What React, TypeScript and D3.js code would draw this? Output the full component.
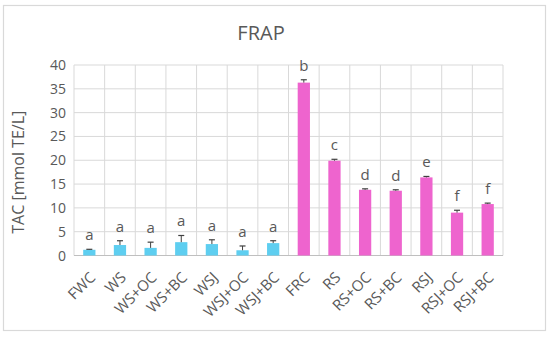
import React from "react";
import * as d3 from "d3";

const categories = ["FWC", "WS", "WS+OC", "WS+BC", "WSJ", "WSJ+OC", "WSJ+BC", "FRC", "RS", "RS+OC", "RS+BC", "RSJ", "RSJ+OC", "RSJ+BC"];
const values = [1.2, 2.2, 1.6, 2.8, 2.4, 1.1, 2.6, 36.3, 19.9, 13.8, 13.6, 16.4, 9.0, 10.8];
const errors = [0.1, 0.9, 1.2, 1.4, 0.9, 0.9, 0.5, 0.6, 0.3, 0.2, 0.2, 0.2, 0.5, 0.2];
const letters = ["a", "a", "a", "a", "a", "a", "a", "b", "c", "d", "d", "e", "f", "f"];
const groups = ["W", "W", "W", "W", "W", "W", "W", "R", "R", "R", "R", "R", "R", "R"];
const yTicks = [0, 5, 10, 15, 20, 25, 30, 35, 40];

const W = 550, H = 337;
const left = 74, right = 503, top = 65, bottom = 255.5;
const TEXT = "#595959";
const FONT = "'Open Sans', 'Liberation Sans', sans-serif";

export default function App() {
  const x = d3.scaleBand<string>().domain(categories).range([left, right]).paddingInner(0).paddingOuter(0);
  const y = d3.scaleLinear().domain([0, 40]).range([bottom, top]);
  const bw = x.bandwidth() * 0.4;
  const color = (g: string) => (g === "W" ? "#5ECEF0" : "#EE64CE");

  return (
    <svg width={W} height={H} style={{ position: "absolute", left: 0, top: 0, background: "#fff" }} fontFamily={FONT}>
      <rect x={3.5} y={5.5} width={542} height={325} fill="#fff" stroke="#d9d9d9" strokeWidth={1.2} />
      <text x={261} y={39.5} textAnchor="middle" fontSize={20} fill={TEXT}>FRAP</text>
      {yTicks.map((t) => (
        <g key={t}>
          <line x1={left} x2={right} y1={y(t)} y2={y(t)} stroke="#d9d9d9" strokeWidth={1} />
          <text x={66} y={y(t) + 5} textAnchor="end" fontSize={14} fill={TEXT}>{t}</text>
        </g>
      ))}
      {categories.map((c, i) => (
        <line key={"v" + i} x1={x(c)!} x2={x(c)!} y1={top} y2={bottom} stroke="#d9d9d9" strokeWidth={1} />
      ))}
      <line x1={right} x2={right} y1={top} y2={bottom} stroke="#d9d9d9" strokeWidth={1} />
      <line x1={left} x2={right} y1={bottom} y2={bottom} stroke="#bfbfbf" strokeWidth={1.2} />
      {categories.map((c, i) => {
        const cx = x(c)! + x.bandwidth() / 2;
        const errTop = y(values[i] + errors[i]);
        return (
          <g key={c}>
            <rect x={cx - bw / 2} y={y(values[i])} width={bw} height={bottom - y(values[i])} fill={color(groups[i])} />
            <line x1={cx} x2={cx} y1={y(values[i])} y2={errTop} stroke="#404040" strokeWidth={1} />
            <line x1={cx - 3} x2={cx + 3} y1={errTop} y2={errTop} stroke="#404040" strokeWidth={1.2} />
            <text x={cx} y={errTop - 9} textAnchor="middle" fontSize={15} fill={TEXT}>{letters[i]}</text>
            <text transform={`translate(${cx + 7},${bottom + 23}) rotate(-45)`} textAnchor="end" fontSize={15} fill={TEXT}>{c}</text>
          </g>
        );
      })}
      <text transform={`translate(24,${(top + bottom) / 2 + 12}) rotate(-90)`} textAnchor="middle" fontSize={16} fill={TEXT}>TAC [mmol TE/L]</text>
    </svg>
  );
}
